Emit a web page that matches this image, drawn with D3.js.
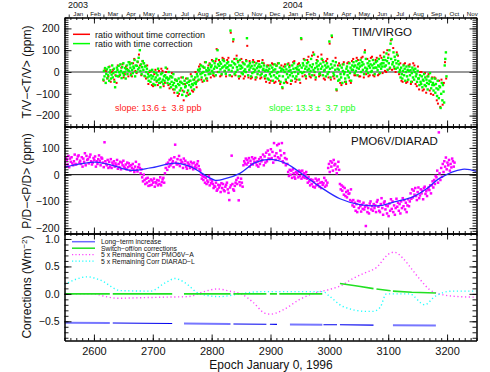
<!DOCTYPE html>
<html>
<head>
<meta charset="utf-8">
<script src="https://cdn.jsdelivr.net/npm/d3@7"></script>
<style>
  body { margin: 0; background: #fff; }
  text { font-family: "Liberation Sans", Arial, Helvetica, sans-serif; fill: #111; }
</style>
</head>
<body>
<svg id="chart" width="490" height="372"></svg>
<script>
// ---- data (epoch = days since January 0, 1996) ----
const xDomain = [2550, 3250];
const xTicks = [2600, 2700, 2800, 2900, 3000, 3100, 3200];
const monthNames = ["Jan","Feb","Mar","Apr","May","Jun","Jul","Aug","Sep","Oct","Nov","Dec"];
const yearLabels = [2003, 2004];

const timDomain = [-250, 250];
const timTicks = [-200, -100, 0, 100, 200];
const pdDomain = [-220, 180];
const pdTicks = [-200, -100, 0, 100];
const corrDomain = [-0.85, 1.1];
const corrTicks = [-0.5, 0.0, 0.5, 1.0];

// TIM/VIRGO ratio, 4-day bins starting at day 2616
const timStart = 2616;
const timGreen = [
  [-35,5,-20,18],[-50,-8,12,-28],[-15,22,-40,-2],[8,-30,-12,30],[-25,-5,15,-45],[-70,0,-18,20],
  [10,-20,28,0],[-12,35,5,-28],[22,-5,40,-15],[0,18,-30,12],[30,-10,8,45],
  [5,35,20,-15],[40,10,-5,25],[18,55,-20,30],[0,28,48,12],[65,20,100,5],[35,-10,22,50],[10,40,-18,25],[28,0,15,-25],
  [-10,-40,-20,5],[-45,-15,-30,10],[-20,-55,0,-35],[-60,-25,-5,-40],[-15,15,-35,-50],[-30,-70,-10,-45],[-5,-35,-55,-20],[-40,-15,20,-28],[-25,-50,-35,0],
  [-30,-55,-20,-70],[-45,-25,-60,-10],
  [-50,-80,-35,-65],[-70,-40,-95,-55],[-30,-60,-85,-45],[-75,-50,-105,-25],[-55,-90,-40,-70],[-65,-110,-50,-30],[-85,-45,-60,-100],[-40,-70,-20,-55],[-60,-35,-80,-50],[-25,-55,-45,-10],
  [-20,10,-35,5],[15,-10,30,-25],[-5,25,0,-40],[20,-15,45,8],[-30,5,18,-10],[10,35,-8,22],
  [30,5,50,-5],[15,40,25,-15],[60,20,100,35],[0,28,45,12],[38,-10,20,55],[25,50,5,30],[-8,18,40,22],[45,10,30,-15],
  [190,30,5,48],[20,150,40,-10],[35,0,60,22],[10,45,-20,30],[55,15,28,-5],
  [20,-10,40,5],[35,12,0,50],[155,25,-15,30],[10,40,20,-20],[28,-5,45,15],[0,30,10,-25],[40,18,-10,25],[5,35,22,-15],[25,-8,42,10],[15,30,-20,5],
  [-15,10,25,-30],[5,-35,15,-10],[30,-20,0,20],[-40,8,-15,35],[12,-25,28,-5],[-30,0,40,-18],[20,-45,5,15],[-70,-20,10,-50],[0,25,-35,12],[-10,35,-25,5],[22,-15,8,-40],[-5,30,-20,15],[40,0,-30,18],[-20,12,25,-8],[10,-35,30,0],
  [155,20,-5,40],[30,0,55,15],[-20,25,40,8],[45,15,-10,30],[5,60,22,-15],[35,10,80,0],[18,-25,40,25],[50,12,30,-10],[-5,38,15,60],[25,-15,45,5],[10,30,-20,20],
  [40,-10,25,0],[140,15,-25,35],[167,20,50,-5],[-15,30,10,45],
  [-80,-20,15,-40],[10,-35,30,-10],[-25,20,-50,5],[35,-10,0,-30],[-45,15,25,-15],[5,-25,40,-5],[20,-40,10,30],
  [10,45,25,-5],[30,5,50,20],[-15,35,15,40],[25,55,0,30],[45,10,35,-10],[90,20,60,5],[15,40,-5,28],[50,20,35,0],[5,30,55,18],[38,-10,20,45],[20,50,8,30],[60,25,-5,35],[15,40,25,55],
  [40,70,25,55],[30,85,50,10],[65,40,100,20],[130,60,150,35],[45,90,25,70],[55,15,40,80],[20,50,35,0],
  [10,-25,20,-10],[-30,5,30,-15],[15,-40,0,25],[-20,10,-35,5],[25,-15,8,-45],[-5,20,-25,10],[-35,0,15,-20],[-10,-45,5,-30],
  [-30,-60,-15,-45],[-55,-20,-70,-35],[-40,-10,-60,-25],[-65,-35,-50,-80],[-20,-55,-40,-5],[-45,-75,-30,-60],
  [-50,-85,-60,-30],[-95,-55,-75,-110],[-40,-80,-120,-65],[-70,-165,-100,-50],[-130,-60,-90,-140],
  [30,60,90,-20]
];
const timRed = [
  [-40,15],[5,-30],[-20,25],[-45,0],[10,-35],[-15,-50],
  [30,-20],[-15,20],[35,-25],[-10,25],[15,-20],
  [45,-10],[-20,40],[60,5],[-5,45],[80,30],[-15,50],[40,-20],[-30,30],
  [-55,0],[5,-60],[-65,-10],[10,-45],[-60,5],[-50,15],[5,-65],[-50,0],[15,-60],
  [-75,-20],[-5,-80],
  [-95,-35],[-40,-110],[-100,-45],[-25,-85],[-130,-55],[-30,-95],[-105,-40],[-10,-85],[-90,-35],[0,-70],
  [-40,25],[35,-35],[-45,20],[45,-30],[-40,30],[40,-25],
  [55,-15],[-20,50],[105,0],[55,-20],[-15,65],[60,5],[-20,55],[65,-15],
  [180,-20],[140,60],[-15,75],[50,-30],[-20,60],
  [45,-30],[-20,55],[120,-25],[50,-30],[-25,55],[45,-35],[-25,50],[50,-30],[-25,55],[40,-30],
  [-45,30],[30,-50],[-40,40],[35,-50],[-45,30],[40,-40],[-55,30],[-75,25],[35,-45],[-50,40],[30,-55],[-40,45],[50,-45],[-35,35],[40,-50],
  [150,-20],[60,-15],[-30,55],[70,-20],[-25,75],[90,-15],[-35,55],[70,-20],[-15,80],[55,-30],[-35,50],
  [60,-25],[130,-35],[160,-20],[-30,65],
  [-85,30],[40,-50],[-60,35],[45,-45],[-55,40],[45,-40],[-50,50],
  [60,-15],[-15,65],[55,-20],[-20,65],[70,-25],[100,-10],[60,-20],[-15,65],[70,-15],[-20,55],[65,-15],[-10,75],[65,-5],
  [90,5],[0,100],[80,15],[145,10],[110,15],[0,90],[75,-10],
  [40,-40],[-45,35],[40,-50],[-45,30],[35,-55],[-45,40],[30,-55],[-65,25],
  [-80,0],[0,-85],[-80,-5],[-95,-20],[-10,-85],[-100,-25],
  [-105,-25],[-30,-130],[-145,-40],[-160,-35],[-150,-50],
  [45,-30]
];

// PMO6V/DIARAD ratio, 4-day bins starting at day 2550
const pdStart = 2550;
const pdPoints = [
  [45,30,62],[55,38,70],[28,60,48],[65,42,35],[50,75,40],[38,58,68],[72,45,52],[40,65,30],[60,48,80],[35,70,55],
  [58,42,66],[75,50,38],[45,62,55],[68,30,50],[40,58,72],[52,35,64],[60,45,28],[121,50,40],[35,55,25],[48,30,58],
  [25,45,38],[50,30,42],[35,55,22],[40,28,48],[20,45,35],[52,30,25],[38,20,45],[28,42,32],
  [15,35,25],[40,20,10],[30,48,18],[12,28,38],[25,5,20],
  [-10,-25,0],[-20,-35,-15],[-30,-12,-42],[-25,-40,-18],[-38,-22,-30],[-15,-45,-28],[-32,-20,-40],[-22,-35,-10],[-40,-28,-18],[-12,-30,5],
  [25,40,18],[45,30,55],[35,60,42],[50,28,65],[112,45,38],[58,40,70],[32,55,45],[48,25,60],[40,52,30],[22,45,35],
  [38,25,48],[30,42,20],[45,28,35],[25,40,50],[32,20,15],
  [0,-15,-5],[-20,-8,-30],[-12,-35,-22],[-28,-5,-40],[-18,-32,-25],
  [-35,-50,-42],[-45,-30,-60],[-55,-38,-48],[-40,-65,-32],[-50,-35,-58],[-62,-45,-38],[-30,-55,-68],[-95,-48,-40],[71,-35,-55],[-60,-42,-30],
  [-20,-35,-12],[-96,-28,-40],[-15,-30,-45],
  [35,50,42],[60,38,55],[45,62,30],[52,40,65],[38,58,48],[62,45,35],[50,30,58],
  [40,65,50],[55,75,35],[68,45,82],[50,90,60],[75,58,95],[62,85,45],[118,70,55],[80,110,65],[115,60,90],[72,118,50],[45,80,62],[35,58,40],
  [10,-5,18],[0,15,-12],[20,5,-8],[-15,10,2],[8,-10,15],[-5,12,-15],[15,-8,5],[-12,0,10],
  [-15,-30,-8],[-25,-40,-18],[-35,-20,-45],[-28,-48,-15],[-40,-22,-35],[-18,-45,-30],[-50,-28,-38],[-32,-12,-45],[-22,-40,-30],
  [25,40,10],[50,30,45],[15,55,35],[40,20,5],[30,48,18],
  [-35,-55,-40],[-60,-45,-75],[-50,-80,-65],[-85,-60,-72],[-70,-95,-55],
  [-100,-115,-95],[-120,-105,-135],[-110,-140,-98],[-125,-100,-118],[-138,-112,-128],[-105,-130,-120],[-192,-115,-140],[-125,-145,-108],[-100,-130,-118],[-135,-110,-125],[-115,-140,-102],
  [-95,-120,-135],[-140,-110,-88],[-125,-150,-105],[-100,-130,-115],[-145,-118,-155],[-108,-135,-92],[-128,-100,-140],[-115,-150,-125],[-90,-120,-105],[-135,-110,-145],[-100,-125,-88],[-118,-95,-130],[-105,-140,-115],[-92,-118,-100],
  [-70,-90,-55],[-85,-60,-75],[-50,-80,-95],[-65,-48,-88],[-78,-55,-70],[-60,-92,-50],[-45,-72,-62],[-80,-55,-48],[-58,-40,-70],
  [-40,-25,-48],[-20,-35,-5],[-10,15,-30],[158,5,-20],[25,-8,40],[10,50,30],[64,20,45],[35,55,15],[40,27,60],[50,30,45]
];
// smooth fit through the PMO6V/DIARAD ratio
const fitDays = [2550,2577,2603,2631,2662,2696,2738,2764,2806,2823,2848,2874,2901,2928,2955,2984,3018,3052,3086,3114,3142,3167,3187,3226,3250];
const fitVals = [28,40,47,35,16,25,43,30,-21,-15,5,45,57,40,0,-45,-90,-112,-116,-100,-83,-50,-14,20,12];

// corrections panel
const trendDays = [2550, 3183];
const trendVals = [-0.525, -0.578];
const blueSegs = [[2550,2627,1],[2632,2733,0],[2753,2832,1],[2837,2893,0],[2899,2911,0],[2933,2988,1],[2990,3013,0],[3018,3075,0],[3108,3181,1]];
const switchDays = [2550, 3016, 3017, 3050, 3075, 3108, 3140, 3183];
const switchVals = [0, 0, 0.19, 0.14, 0.095, 0.05, 0.03, 0.015];
const greenSegs = [[2550,2627],[2632,2733],[2753,2832],[2837,2893],[2899,2911],[2915,2988],[3018,3075],[3080,3104],[3108,3181]];
const pmoDays = [2550,2600,2620,2640,2680,2720,2760,2790,2810,2830,2850,2870,2890,2900,2920,2950,2970,3000,3020,3040,3060,3080,3100,3110,3125,3140,3155,3170,3190,3220,3250];
const pmoVals = [0,0,-0.05,-0.08,-0.07,-0.06,-0.05,0.05,0.09,0.05,0,-0.15,-0.35,-0.37,-0.3,-0.1,0,0.08,0.15,0.28,0.38,0.48,0.72,0.76,0.65,0.45,0.25,0.08,-0.01,-0.05,-0.06];
const diaDays = [2550,2589,2611,2645,2696,2721,2738,2755,2780,2814,2848,2882,2989,3001,3023,3064,3074,3086,3097,3136,3162,3179,3209,3250];
const diaVals = [0.17,0.31,0.25,0.06,0.05,0.2,0.28,0.2,0.0,-0.05,0.0,0.04,0.04,-0.05,-0.23,-0.32,-0.32,-0.25,0.0,0.0,-0.2,-0.05,0.05,0.05];

const legendTop = [
  {label: "ratio without time correction", color: "#ff0000"},
  {label: "ratio with time correction", color: "#00ff00"}
];
const legendBottom = [
  {label: "Long\u2212term increase", color: "#6a6aff", dash: null},
  {label: "Switch\u2212off/on corrections", color: "#22e022", dash: null},
  {label: "5 x Remaining Corr PMO6V\u2212A", color: "#ff44ff", dash: "1.2,2.2"},
  {label: "5 x Remaining Corr DIARAD\u2212L", color: "#22ffff", dash: "1.2,2.2"}
];

// ---- layout ----
const svg = d3.select("#chart");
const L = 64.5, R = 476.5;
const panels = {
  tim: {top: 17.5, bottom: 126.5},
  pd: {top: 126.5, bottom: 233.5},
  corr: {top: 233.5, bottom: 340.5}
};

const x = d3.scaleLinear().domain(xDomain).range([L, R]);
const yTim = d3.scaleLinear().domain(timDomain).range([panels.tim.bottom, panels.tim.top]);
const yPd = d3.scaleLinear().domain(pdDomain).range([panels.pd.bottom, panels.pd.top]);
const yCorr = d3.scaleLinear().domain(corrDomain).range([panels.corr.bottom, panels.corr.top]);

const epoch0 = Date.UTC(1995, 11, 31);
const toEpoch = d => (d - epoch0) / 864e5;

svg.append("defs").selectAll("clipPath")
  .data(Object.entries(panels))
  .enter().append("clipPath")
  .attr("id", d => "clip-" + d[0])
  .append("rect")
  .attr("x", L).attr("y", d => d[1].top)
  .attr("width", R - L).attr("height", d => d[1].bottom - d[1].top);

function drawFrame(y, p, majors, minorStep, fmt, labelled) {
  const g = svg.append("g").attr("class", "frame");
  const minors = d3.range(y.domain()[0], y.domain()[1] + 1e-9, minorStep)
    .map(v => Math.round(v / minorStep) * minorStep);
  const xMinor = d3.range(2550, 3251, 10);

  const axes = [
    [d3.axisLeft(y).tickValues(minors).tickSize(-4).tickFormat(""), `translate(${L},0)`],
    [d3.axisRight(y).tickValues(minors).tickSize(-4).tickFormat(""), `translate(${R},0)`],
    [d3.axisRight(y).tickValues(majors).tickSize(-7).tickFormat(""), `translate(${R},0)`],
    [d3.axisBottom(x).tickValues(xMinor).tickSize(-2.5).tickFormat(""), `translate(0,${p.bottom})`],
    [d3.axisTop(x).tickValues(xMinor).tickSize(-2.5).tickFormat(""), `translate(0,${p.top})`],
    [d3.axisTop(x).tickValues(xTicks).tickSize(-6).tickFormat(""), `translate(0,${p.top})`]
  ];
  axes.forEach(([ax, tr]) => {
    g.append("g").attr("transform", tr).call(ax.tickSizeOuter(0));
  });
  g.append("g").attr("transform", `translate(0,${p.bottom})`)
    .call(d3.axisBottom(x).tickValues(xTicks).tickSize(-6).tickSizeOuter(0)
      .tickFormat(labelled ? d3.format("d") : "").tickPadding(7))
    .selectAll("text").style("font-size", "11px");
  g.append("g").attr("transform", `translate(${L},0)`)
    .call(d3.axisLeft(y).tickValues(majors).tickSize(-7).tickSizeOuter(0).tickPadding(5).tickFormat(fmt))
    .selectAll("text").style("font-size", "10.5px");

  g.selectAll("path.domain").attr("stroke", "#000").attr("stroke-width", 1);
  g.selectAll(".tick line").attr("stroke", "#000").attr("stroke-width", 0.9);
  g.selectAll("text").attr("fill", "#111").style("font-family", null);
  return g;
}

// ---- panel 1: TIM/VIRGO ----
const g1 = svg.append("g").attr("clip-path", "url(#clip-tim)");
g1.append("line")
  .attr("x1", L).attr("x2", R)
  .attr("y1", yTim(0)).attr("y2", yTim(0))
  .attr("stroke", "#333").attr("stroke-width", 1);

const redPts = [];
timRed.forEach((vals, i) => vals.forEach((v, j) => redPts.push([timStart + 4 * i + 0.5 + 2 * j, v])));
const greenPts = [];
timGreen.forEach((vals, i) => vals.forEach((v, j) => greenPts.push([timStart + 4 * i + j, v])));

g1.selectAll("rect.red").data(redPts).enter().append("rect")
  .attr("class", "red")
  .attr("x", d => x(d[0]) - 1).attr("y", d => yTim(d[1]) - 1)
  .attr("width", 2).attr("height", 2).attr("fill", "#ff0000");
g1.selectAll("rect.green").data(greenPts).enter().append("rect")
  .attr("class", "green")
  .attr("x", d => x(d[0]) - 1.2).attr("y", d => yTim(d[1]) - 1.2)
  .attr("width", 2.4).attr("height", 2.4).attr("fill", "#00ff00");

drawFrame(yTim, panels.tim, timTicks, 10, d3.format("d"), false);

// month axis on top
const months = d3.utcMonth.range(new Date(Date.UTC(2003, 0, 1)), new Date(Date.UTC(2004, 11, 1)));
const monthAxis = svg.append("g");
monthAxis.selectAll("line").data(months).enter().append("line")
  .attr("x1", d => x(toEpoch(d))).attr("x2", d => x(toEpoch(d)))
  .attr("y1", 14.5).attr("y2", panels.tim.top)
  .attr("stroke", "#000").attr("stroke-width", 0.8);
monthAxis.selectAll("text").data(months).enter().append("text")
  .attr("x", d => x((toEpoch(d) + toEpoch(d3.utcMonth.offset(d, 1))) / 2))
  .attr("y", 16)
  .attr("text-anchor", "middle")
  .style("font-size", "6.2px")
  .text(d => monthNames[d.getUTCMonth()]);
svg.selectAll("text.year").data(yearLabels).enter().append("text")
  .attr("class", "year")
  .attr("x", d => x(toEpoch(Date.UTC(d, 0, 16))))
  .attr("y", 8)
  .attr("text-anchor", "middle")
  .style("font-size", "9px")
  .text(d => d);

const lt = svg.append("g").attr("transform", "translate(73,37.5)");
legendTop.forEach((d, i) => {
  lt.append("line").attr("x1", 0).attr("x2", 17)
    .attr("y1", i * 9.3 - 3.2).attr("y2", i * 9.3 - 3.2)
    .attr("stroke", d.color).attr("stroke-width", 1.5);
  lt.append("text").attr("x", 22).attr("y", i * 9.3)
    .style("font-size", "9px").text(d.label);
});
svg.append("text").attr("x", 352).attr("y", 36).style("font-size", "11.5px").text("TIM/VIRGO");
svg.append("text").attr("x", 115).attr("y", 111).style("font-size", "9px")
  .style("fill", "#ff2020").text("slope: 13.6 \u00b1  3.8 ppb").attr("xml:space", "preserve");
svg.append("text").attr("x", 269).attr("y", 111).style("font-size", "9px")
  .style("fill", "#22ff22").text("slope: 13.3 \u00b1  3.7 ppb").attr("xml:space", "preserve");

// ---- panel 2: PMO6V/DIARAD ----
const g2 = svg.append("g").attr("clip-path", "url(#clip-pd)");
g2.append("line")
  .attr("x1", L).attr("x2", R)
  .attr("y1", yPd(0)).attr("y2", yPd(0))
  .attr("stroke", "#000").attr("stroke-width", 1);
const pdPts = [];
pdPoints.forEach((vals, i) => vals.forEach((v, j) => pdPts.push([pdStart + 4 * i + j * 1.33, v])));
g2.selectAll("rect.pd").data(pdPts).enter().append("rect")
  .attr("class", "pd")
  .attr("x", d => x(d[0]) - 1.25).attr("y", d => yPd(d[1]) - 1.25)
  .attr("width", 2.5).attr("height", 2.5).attr("fill", "#ff00ff");
g2.append("path")
  .datum(fitDays.map((d, i) => [d, fitVals[i]]))
  .attr("fill", "none").attr("stroke", "#2a2aff").attr("stroke-width", 1.3)
  .attr("d", d3.line().x(d => x(d[0])).y(d => yPd(d[1])).curve(d3.curveCatmullRom));

drawFrame(yPd, panels.pd, pdTicks, 10, d3.format("d"), false);
svg.append("text").attr("x", 351).attr("y", 145).style("font-size", "11.5px").text("PMO6V/DIARAD");

// ---- panel 3: corrections ----
const g3 = svg.append("g").attr("clip-path", "url(#clip-corr)");
const cLine = d3.line().x(d => x(d[0])).y(d => yCorr(d[1])).curve(d3.curveMonotoneX);
g3.append("path")
  .datum(pmoDays.map((d, i) => [d, pmoVals[i]]))
  .attr("fill", "none").attr("stroke", "#ff44ff").attr("stroke-width", 1.4)
  .attr("stroke-dasharray", "1.2,2.6").attr("d", cLine);
g3.append("path")
  .datum(diaDays.map((d, i) => [d, diaVals[i]]))
  .attr("fill", "none").attr("stroke", "#22ffff").attr("stroke-width", 1.4)
  .attr("stroke-dasharray", "1.2,2.6").attr("d", cLine);

const switchScale = d3.scaleLinear().domain(switchDays).range(switchVals);
const straight = d3.line().x(d => x(d[0])).y(d => yCorr(d[1]));
g3.selectAll("path.switch").data(greenSegs).enter().append("path")
  .attr("class", "switch")
  .attr("fill", "none").attr("stroke", "#22e022").attr("stroke-width", 1.6)
  .attr("d", s => straight([s[0], ...switchDays.filter(d => d > s[0] && d < s[1]), s[1]]
    .map(d => [d, switchScale(d)])));

const trendScale = d3.scaleLinear().domain(trendDays).range(trendVals);
g3.selectAll("path.trend").data(blueSegs).enter().append("path")
  .attr("class", "trend")
  .attr("fill", "none")
  .attr("stroke", s => s[2] ? "#7777ff" : "#0000ee")
  .attr("stroke-width", s => s[2] ? 2 : 1.1)
  .attr("d", s => straight([s[0], s[1]].map(d => [d, trendScale(d)])));

drawFrame(yCorr, panels.corr, corrTicks, 0.1, d3.format(".1f"), true);

const lb = svg.append("g").attr("transform", "translate(72,244)");
legendBottom.forEach((d, i) => {
  lb.append("line").attr("x1", 0).attr("x2", 23)
    .attr("y1", i * 6.5 - 2.3).attr("y2", i * 6.5 - 2.3)
    .attr("stroke", d.color).attr("stroke-width", d.dash ? 1.3 : 1.5)
    .attr("stroke-dasharray", d.dash);
  lb.append("text").attr("x", 29).attr("y", i * 6.5)
    .style("font-size", "6.8px").text(d.label);
});

// ---- axis titles ----
const yTitles = [
  {text: "T/V\u2212<T/V> (ppm)", cy: 72},
  {text: "P/D\u2212<P/D> (ppm)", cy: 181}
];
yTitles.forEach(t => {
  svg.append("text")
    .attr("transform", `translate(31,${t.cy}) rotate(-90)`)
    .attr("text-anchor", "middle").style("font-size", "12px").text(t.text);
});
const ct = svg.append("text")
  .attr("transform", "translate(31,287) rotate(-90)")
  .attr("text-anchor", "middle").style("font-size", "12px");
ct.append("tspan").text("Corrections (Wm");
ct.append("tspan").attr("dy", -4).style("font-size", "8px").text("\u22122");
ct.append("tspan").attr("dy", 4).text(")");

svg.append("text").attr("x", 271).attr("y", 369)
  .attr("text-anchor", "middle").style("font-size", "12px")
  .text("Epoch January 0, 1996");
</script>
</body>
</html>
